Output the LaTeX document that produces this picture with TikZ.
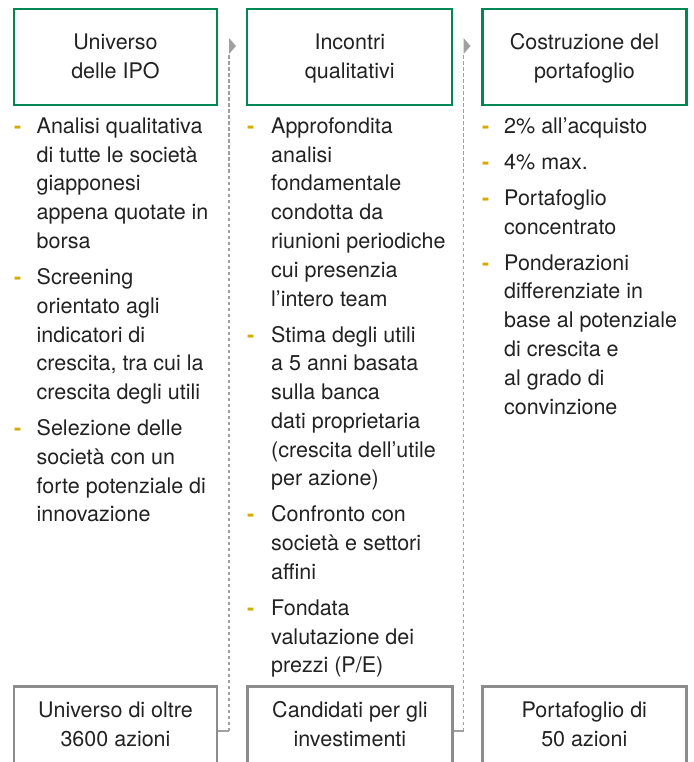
\documentclass[tikz,border=0pt]{standalone}
\usepackage{fontspec}
\setmainfont{TeX Gyre Heros}
\definecolor{hdrgreen}{RGB}{0,136,84}
\definecolor{boxgray}{RGB}{140,140,140}
\definecolor{dashgray}{RGB}{160,160,160}
\definecolor{bulletgold}{RGB}{212,172,0}
\definecolor{txtcol}{RGB}{34,34,34}
\tikzset{
  hdrbox/.style={draw=hdrgreen, line width=2.2pt, inner sep=0pt, minimum height=95.4pt},
  graybox/.style={draw=boxgray, line width=2.4pt, inner sep=0pt, minimum height=120pt, anchor=north},
  bodytxt/.style={inner sep=0pt, align=left, anchor=base west, text=txtcol},
  centertxt/.style={inner sep=0pt, align=center, anchor=base, text=txtcol},
  bul/.style={inner sep=0pt, anchor=base west, text=bulletgold, font=\fontsize{21.5}{28.77}\selectfont\bfseries},
  conn/.style={draw=dashgray, line width=1.3pt, dash pattern=on 3.5pt off 2.5pt},
  connsolid/.style={draw=dashgray, line width=1.3pt},
  tipfill/.style={fill=dashgray}
}
\begin{document}
\begin{tikzpicture}[x=1pt,y=-1pt,font=\fontsize{21.5}{28.77}\selectfont]
\useasboundingbox (0,0) rectangle (693,762);
\clip (0,0) rectangle (693,762);

% header boxes (text nodes anchored at the baseline of their last line)
\node[hdrbox, minimum width=203.6pt] (h1) at (115.5,57) {};
\node[hdrbox, minimum width=205pt] (h2) at (349.8,57) {};
\node[hdrbox, minimum width=204pt] (h3) at (584.4,57) {};
\node[centertxt] (h1t) at (115.5,78.27) {Universo\\delle IPO};
\node[centertxt] (h2t) at (349.8,78.27) {Incontri\\qualitativi};
\node[centertxt] (h3t) at (584.4,78.27) {Costruzione del\\portafoglio};

% bottom boxes (open at bottom, cut by the page)
\node[graybox, minimum width=203.3pt] (b1) at (115.5,685.3) {};
\node[graybox, minimum width=204.8pt] (b2) at (349.9,685.3) {};
\node[graybox, minimum width=204pt] (b3) at (584.3,685.3) {};
\node[centertxt] (b1t) at (115.5,746.07) {Universo di oltre\\3600 azioni};
\node[centertxt] (b2t) at (349.9,746.07) {Candidati per gli\\investimenti};
\node[centertxt] (b3t) at (584.3,746.07) {Portafoglio di\\50 azioni};

% column 1
\node[bul] (d11) at (14,133.4) {-};
\node[bodytxt] (t11) at (36.5,248.48) {Analisi qualitativa\\di tutte le società\\giapponesi\\appena quotate in\\borsa};
\node[bul] (d12) at (14,284.5) {-};
\node[bodytxt] (t12) at (36.5,399.58) {Screening\\orientato agli\\indicatori di\\crescita, tra cui la\\crescita degli utili};
\node[bul] (d13) at (14,435.6) {-};
\node[bodytxt] (t13) at (36.5,521.91) {Selezione delle\\società con un\\forte potenziale di\\innovazione};

% column 2
\node[bul] (d21) at (247,133.4) {-};
\node[bodytxt] (t21) at (271,306.02) {Approfondita\\analisi\\fondamentale\\condotta da\\riunioni periodiche\\cui presenzia\\l’intero team};
\node[bul] (d22) at (247,342.0) {-};
\node[bodytxt] (t22) at (271,485.85) {Stima degli utili\\a 5 anni basata\\sulla banca\\dati proprietaria\\(crescita dell’utile\\per azione)};
\node[bul] (d23) at (247,521.9) {-};
\node[bodytxt] (t23) at (271,579.44) {Confronto con\\società e settori\\affini};
\node[bul] (d24) at (247,615.4) {-};
\node[bodytxt] (t24) at (271,672.94) {Fondata\\valutazione dei\\prezzi (P/E)};

% column 3
\node[bul] (d31) at (482,133.4) {-};
\node[bodytxt] (t31) at (504,133.4) {2\% all’acquisto};
\node[bul] (d32) at (482,169.4) {-};
\node[bodytxt] (t32) at (504,169.4) {4\% max.};
\node[bul] (d33) at (482,205.4) {-};
\node[bodytxt] (t33) at (504,234.17) {Portafoglio\\concentrato};
\node[bul] (d34) at (482,270.2) {-};
\node[bodytxt] (t34) at (504,414.05) {Ponderazioni\\differenziate in\\base al potenziale\\di crescita e\\al grado di\\convinzione};

% connectors
\coordinate (j1) at (229,731);
\coordinate (k1) at (229,54);
\draw[connsolid] (b1.east |- j1) -- (j1);
\draw[conn] (j1) -- (k1);
\fill[tipfill] (229,38) -- (236,46) -- (229,54) -- cycle;

\coordinate (j2) at (463.5,731);
\coordinate (k2) at (463.5,54);
\draw[connsolid] (b2.east |- j2) -- (j2);
\draw[conn] (j2) -- (k2);
\fill[tipfill] (463.5,38) -- (470.5,46) -- (463.5,54) -- cycle;
\end{tikzpicture}
\end{document}
